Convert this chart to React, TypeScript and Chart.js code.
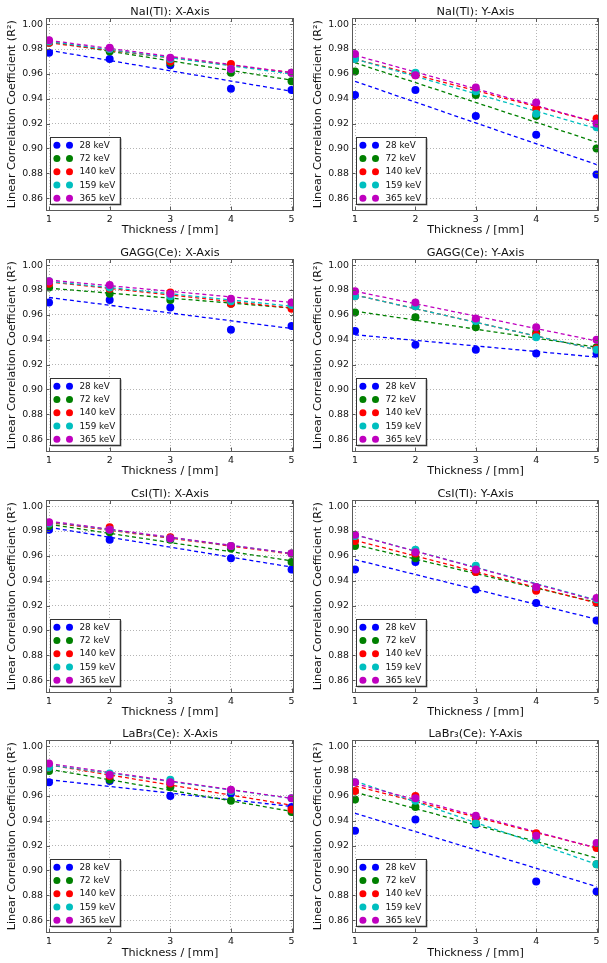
import React, { useEffect, useRef } from "react";
import { Chart, registerables } from "chart.js";
Chart.register(...registerables);

// ---------- data ----------
const thickness = [1, 2, 3, 4, 5];
const energies = ["28 keV", "72 keV", "140 keV", "159 keV", "365 keV"];
const colors = ["#0000ff", "#008000", "#ff0000", "#00bfbf", "#bf00bf"];
const yTicks = [0.86, 0.88, 0.9, 0.92, 0.94, 0.96, 0.98, 1.0];
const fitX = [1, 5];

const naiXPoints = [
  [0.977, 0.972, 0.967, 0.948, 0.947],
  [0.985, 0.978, 0.969, 0.961, 0.954],
  [0.985, 0.98, 0.97, 0.968, 0.961],
  [0.986, 0.98, 0.972, 0.964, 0.961],
  [0.987, 0.981, 0.973, 0.964, 0.961],
];
const naiXFit = [[0.979, 0.946], [0.986, 0.955], [0.985, 0.961], [0.986, 0.96], [0.987, 0.961]];

const naiYPoints = [
  [0.943, 0.947, 0.926, 0.911, 0.879],
  [0.962, 0.96, 0.943, 0.926, 0.9],
  [0.972, 0.959, 0.947, 0.932, 0.924],
  [0.972, 0.961, 0.946, 0.928, 0.917],
  [0.976, 0.959, 0.949, 0.937, 0.92],
];
const naiYFit = [[0.954, 0.887], [0.969, 0.905], [0.972, 0.921], [0.972, 0.916], [0.975, 0.921]];

const gaggXPoints = [
  [0.97, 0.972, 0.966, 0.948, 0.951],
  [0.982, 0.977, 0.972, 0.969, 0.966],
  [0.985, 0.981, 0.978, 0.969, 0.965],
  [0.987, 0.982, 0.975, 0.971, 0.968],
  [0.987, 0.984, 0.977, 0.973, 0.97],
];
const gaggXFit = [[0.974, 0.949], [0.9815, 0.9655], [0.9865, 0.9655], [0.987, 0.967], [0.988, 0.97]];

const gaggYPoints = [
  [0.947, 0.936, 0.932, 0.929, 0.929],
  [0.962, 0.958, 0.95, 0.946, 0.934],
  [0.975, 0.967, 0.956, 0.944, 0.933],
  [0.975, 0.967, 0.955, 0.942, 0.932],
  [0.979, 0.97, 0.957, 0.95, 0.94],
];
const gaggYFit = [[0.944, 0.926], [0.963, 0.934], [0.976, 0.932], [0.976, 0.932], [0.979, 0.939]];

const csiXPoints = [
  [0.981, 0.973, 0.974, 0.958, 0.949],
  [0.984, 0.979, 0.973, 0.966, 0.955],
  [0.986, 0.983, 0.975, 0.968, 0.962],
  [0.986, 0.981, 0.974, 0.968, 0.962],
  [0.987, 0.981, 0.974, 0.968, 0.962],
];
const csiXFit = [[0.983, 0.951], [0.9855, 0.956], [0.987, 0.9615], [0.9875, 0.962], [0.988, 0.962]];

const csiYPoints = [
  [0.949, 0.955, 0.933, 0.922, 0.908],
  [0.968, 0.958, 0.947, 0.933, 0.923],
  [0.972, 0.962, 0.947, 0.932, 0.922],
  [0.976, 0.965, 0.952, 0.935, 0.925],
  [0.977, 0.963, 0.949, 0.935, 0.926],
];
const csiYFit = [[0.957, 0.909], [0.969, 0.9225], [0.9725, 0.922], [0.977, 0.9245], [0.977, 0.924]];

const labrXPoints = [
  [0.971, 0.972, 0.96, 0.962, 0.951],
  [0.98, 0.973, 0.967, 0.956, 0.947],
  [0.983, 0.976, 0.97, 0.964, 0.949],
  [0.983, 0.978, 0.973, 0.964, 0.958],
  [0.986, 0.977, 0.971, 0.965, 0.958],
];
const labrXFit = [[0.973, 0.9515], [0.9815, 0.9475], [0.985, 0.9525], [0.985, 0.958], [0.986, 0.958]];

const labrYPoints = [
  [0.932, 0.941, 0.937, 0.891, 0.883],
  [0.957, 0.951, 0.938, 0.925, 0.905],
  [0.964, 0.96, 0.942, 0.93, 0.918],
  [0.971, 0.956, 0.938, 0.925, 0.905],
  [0.971, 0.958, 0.944, 0.928, 0.922],
];
const labrYFit = [[0.946, 0.887], [0.963, 0.91], [0.968, 0.918], [0.972, 0.905], [0.97, 0.918]];

const titles = [
  "NaI(Tl): X-Axis", "NaI(Tl): Y-Axis",
  "GAGG(Ce): X-Axis", "GAGG(Ce): Y-Axis",
  "CsI(Tl): X-Axis", "CsI(Tl): Y-Axis",
  "LaBr\u2083(Ce): X-Axis", "LaBr\u2083(Ce): Y-Axis",
];
const pointSets = [naiXPoints, naiYPoints, gaggXPoints, gaggYPoints, csiXPoints, csiYPoints, labrXPoints, labrYPoints];
const fitSets = [naiXFit, naiYFit, gaggXFit, gaggYFit, csiXFit, csiYFit, labrXFit, labrYFit];

// ---------- layout ----------
const FONT = "DejaVu Sans";
const rowTops = [0, 241, 482, 722];
const rowHeights = [240, 240, 240, 241];
const colLefts = [0, 303];
const colWidths = [303, 304];
const areaLefts = [46, 49];
const areaRights = [294, 296];
const areaTop = 18;
const areaBottom = 210.5;

const framePlugin = {
  id: "frame",
  afterDatasetsDraw(chart: any, _args: any, opts: any) {
    const { ctx, chartArea: a, scales } = chart;
    ctx.save();
    ctx.strokeStyle = "#5a5a5a";
    ctx.lineWidth = 1;
    ctx.strokeRect(Math.round(a.left) + 0.5, Math.round(a.top) + 0.5, Math.round(a.right - a.left) - 1, Math.round(a.bottom - a.top) - 1);
    const tl = 4;
    ctx.beginPath();
    for (const v of thickness) {
      const x = Math.round(scales.x.getPixelForValue(v)) + 0.5;
      ctx.moveTo(x, a.bottom); ctx.lineTo(x, a.bottom - tl);
      ctx.moveTo(x, a.top); ctx.lineTo(x, a.top + tl);
    }
    for (const v of yTicks) {
      const y = Math.round(scales.y.getPixelForValue(v)) + 0.5;
      ctx.moveTo(a.left, y); ctx.lineTo(a.left + tl, y);
      ctx.moveTo(a.right, y); ctx.lineTo(a.right - tl, y);
    }
    ctx.stroke();
    // title
    ctx.fillStyle = "#111111";
    ctx.font = `11.3px "${FONT}"`;
    ctx.textAlign = "center";
    ctx.textBaseline = "middle";
    ctx.fillText(opts.title, (a.left + a.right) / 2, a.top - 6.3);
    ctx.restore();
  },
};

const legendPlugin = {
  id: "boxlegend",
  afterDraw(chart: any) {
    const { ctx, chartArea: a } = chart;
    const left = a.left + 3.5;
    const w = 70;
    const h = 67;
    const bottom = a.bottom - 7;
    const top = bottom - h;
    ctx.save();
    ctx.fillStyle = "rgba(0,0,0,0.45)";
    ctx.fillRect(left + 2, top + 2, w, h);
    ctx.fillStyle = "#ffffff";
    ctx.fillRect(left, top, w, h);
    ctx.strokeStyle = "#333333";
    ctx.lineWidth = 1;
    ctx.strokeRect(Math.round(left) + 0.5, Math.round(top) + 0.5, w, h);
    ctx.font = `8.8px "${FONT}"`;
    ctx.textAlign = "left";
    ctx.textBaseline = "middle";
    energies.forEach((lab, i) => {
      const y = top + 8.7 + i * 13.25;
      ctx.fillStyle = colors[i];
      for (const dx of [7.4, 20]) {
        ctx.beginPath();
        ctx.arc(left + dx, y, 3.5, 0, Math.PI * 2);
        ctx.fill();
      }
      ctx.fillStyle = "#111111";
      ctx.fillText(lab, left + 30, y + 0.5);
    });
    ctx.restore();
  },
};

function Panel({ idx }: { idx: number }) {
  const ref = useRef<HTMLCanvasElement>(null);
  const row = Math.floor(idx / 2);
  const col = idx % 2;
  const W = colWidths[col];
  const H = rowHeights[row];
  useEffect(() => {
    const pts = pointSets[idx];
    const fits = fitSets[idx];
    const datasets: any[] = [];
    energies.forEach((lab, i) => {
      datasets.push({
        label: lab + " fit",
        data: fitX.map((x, k) => ({ x, y: fits[i][k] })),
        showLine: true,
        borderColor: colors[i],
        borderWidth: 1.3,
        borderDash: [4, 3],
        pointRadius: 0,
        order: 20 - i,
      });
    });
    energies.forEach((lab, i) => {
      datasets.push({
        label: lab,
        data: thickness.map((x, k) => ({ x, y: pts[i][k] })),
        showLine: false,
        backgroundColor: colors[i],
        borderColor: colors[i],
        borderWidth: 0,
        pointRadius: 4,
        order: 10 - i,
      });
    });
    const tickFont = { family: FONT, size: 9.4 };
    const labelFont = { family: FONT, size: 11.2 };
    const chart = new Chart(ref.current as HTMLCanvasElement, {
      type: "scatter",
      data: { datasets },
      options: {
        responsive: false,
        animation: false,
        devicePixelRatio: 1,
        layout: { padding: { top: areaTop, right: W - areaRights[col], bottom: 0, left: 0 } },
        plugins: {
          legend: { display: false },
          tooltip: { enabled: false },
          frame: { title: titles[idx] },
        } as any,
        scales: {
          x: {
            type: "linear",
            min: 0.95,
            max: 5.04,
            afterBuildTicks: (s: any) => { s.ticks = thickness.map((v) => ({ value: v })); },
            afterFit: (s: any) => { s.height = H - areaBottom; },
            ticks: { font: tickFont, color: "#111111", padding: 3, maxRotation: 0, callback: (v: any) => String(v) },
            grid: { color: "#b4b4b4", lineWidth: 1, drawTicks: false },
            border: { display: false, dash: [1, 2] },
            title: { display: true, text: "Thickness / [mm]", font: labelFont, color: "#111111", padding: { top: 0, bottom: 3 } },
          },
          y: {
            type: "linear",
            min: 0.85,
            max: 1.005,
            afterBuildTicks: (s: any) => { s.ticks = yTicks.map((v) => ({ value: v })); },
            afterFit: (s: any) => { s.width = areaLefts[col]; },
            ticks: { font: tickFont, color: "#111111", padding: 3, callback: (v: any) => Number(v).toFixed(2) },
            grid: { color: "#b4b4b4", lineWidth: 1, drawTicks: false },
            border: { display: false, dash: [1, 2] },
            title: {
              display: true,
              text: "Linear Correlation Coefficient (R\u00b2)",
              font: labelFont,
              color: "#111111",
              padding: { top: col === 0 ? 5.3 : 8.3, bottom: 0 },
            },
          },
        },
      } as any,
      plugins: [framePlugin, legendPlugin],
    });
    return () => chart.destroy();
  }, [idx]);
  return (
    <canvas
      ref={ref}
      width={W}
      height={H}
      style={{ position: "absolute", left: colLefts[col], top: rowTops[row], width: W, height: H }}
    />
  );
}

export default function App() {
  return (
    <div style={{ position: "absolute", left: 0, top: 0, width: 607, height: 963, background: "#ffffff" }}>
      {titles.map((_, i) => (
        <Panel key={i} idx={i} />
      ))}
    </div>
  );
}
